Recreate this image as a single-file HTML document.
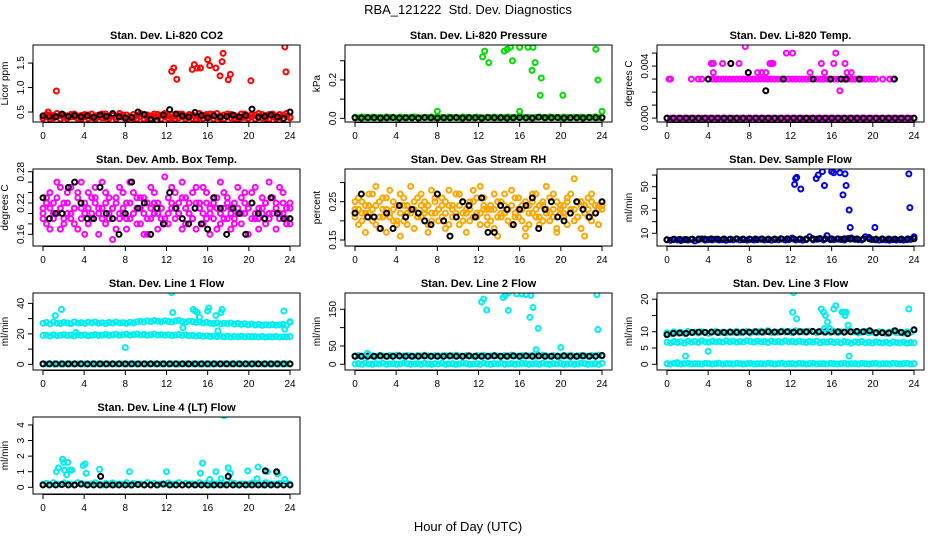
<!DOCTYPE html>
<html><head><meta charset="utf-8"><style>
body{margin:0;background:#fff;width:936px;height:540px;overflow:hidden}
svg{font-family:"Liberation Sans",sans-serif}
</style></head><body>
<svg id="c" width="936" height="540">
<text x="468" y="14" text-anchor="middle" font-size="13" xml:space="preserve">RBA_121222  Std. Dev. Diagnostics</text>
<text x="468" y="531" text-anchor="middle" font-size="13">Hour of Day (UTC)</text>
</svg>
<script>
const xTicks=[0,4,8,12,16,20,24];
const co2BandA=[0.42,0.40,0.44,0.38,0.41,0.43,0.39,0.42,0.45,0.40,0.37,0.43,0.41,0.44,0.39,0.42,0.40,0.46,0.38,0.41,0.43,0.40,0.42,0.39,0.44,0.41,0.37,0.43,0.40,0.45,0.38,0.42,0.41,0.39,0.44,0.40,0.43,0.38,0.42,0.46,0.40,0.41,0.39,0.44,0.42,0.38,0.43,0.41,0.40,0.45,0.39,0.42,0.44,0.40,0.38,0.43,0.41,0.46,0.39,0.42,0.40,0.44,0.41,0.38,0.43,0.45,0.40,0.42,0.39,0.44,0.41,0.40];
const co2BandB=[0.37,0.45,0.36,0.43,0.47,0.36,0.44,0.37,0.40,0.46,0.42,0.36,0.45,0.37,0.46,0.36,0.44,0.38,0.46,0.37,0.45,0.36,0.47,0.44,0.36,0.38,0.45,0.36,0.47,0.36,0.44,0.37,0.46,0.45,0.36,0.47,0.37,0.45,0.36,0.38,0.46,0.36,0.45,0.37,0.36,0.47,0.37,0.45,0.46,0.36,0.47,0.37,0.36,0.46,0.45,0.37,0.36,0.38,0.46,0.37,0.45,0.36,0.47,0.45,0.37,0.36,0.46,0.37,0.45,0.36,0.47,0.38];
const co2Black=[0.42,0.41,0.40,0.46,0.41,0.43,0.40,0.42,0.39,0.44,0.41,0.47,0.40,0.38,0.39,0.50,0.45,0.35,0.33,0.44,0.55,0.46,0.42,0.40,0.49,0.43,0.38,0.42,0.40,0.41,0.44,0.40,0.43,0.56,0.39,0.41,0.44,0.40,0.37,0.50];
const co2OutX=[0.5,1.3,12.5,12.7,13.0,14.5,14.7,15.0,15.3,16.0,16.2,16.8,17.2,17.4,17.5,18.0,18.2,20.2,23.5,23.6];
const co2OutY=[0.50,0.93,1.33,1.40,1.17,1.37,1.47,1.40,1.40,1.57,1.45,1.40,1.24,1.53,1.70,1.16,1.27,1.14,1.83,1.32];

const presBand=[0.006,0.004,0.008,0.005,0.003,0.007,0.005,0.006,0.004,0.008,0.005,0.006,0.003,0.007,0.005,0.004,0.006,0.008,0.005,0.004,0.006,0.005,0.007,0.004,0.006,0.005,0.003,0.007,0.005,0.006,0.004,0.008,0.005,0.006,0.004,0.007,0.005,0.003,0.006,0.005,0.007,0.004,0.006,0.005,0.008,0.004,0.006,0.005,0.007,0.003,0.006,0.004,0.005,0.007,0.006,0.004,0.008,0.005,0.006,0.003,0.007,0.005,0.004,0.006,0.005,0.007,0.004,0.006,0.005,0.008,0.004,0.006];
const presBlack=[0.003,0.002,0.004,0.003,0.002,0.003,0.004,0.002,0.003,0.003,0.002,0.004,0.003,0.002,0.003,0.003,0.004,0.002,0.003,0.003,0.002,0.004,0.003,0.003,0.002,0.003,0.004,0.003,0.002,0.006,0.003,0.003,0.004,0.002,0.003,0.003,0.002,0.004,0.003,0.003];
const presOutX=[8.0,12.4,12.6,13.0,14.5,14.8,15.1,15.3,16.0,16.0,16.8,17.3,17.2,17.5,18.0,18.1,20.2,23.4,23.6,24.0];
const presOutY=[0.037,0.32,0.35,0.29,0.35,0.36,0.37,0.30,0.37,0.037,0.37,0.37,0.25,0.29,0.12,0.21,0.12,0.36,0.20,0.037];

const tempZero=[0,0,0,0,0,0,0,0,0,0,0,0,0,0,0,0,0,0,0,0,0,0,0,0,0,0,0,0,0,0,0,0,0,0,0,0,0,0,0,0,0,0,0,0,0,0,0,0,0,0,0,0,0,0,0,0,0,0,0,0,0,0,0,0,0,0,0,0,0,0,0,0];
const tempMid=[null,0.003,null,null,null,null,null,0.003,null,0.003,0.003,null,0.003,0.003,0.003,0.003,0.003,0.003,0.003,0.003,0.003,0.003,0.003,0.003,0.003,0.003,0.003,0.003,0.003,0.003,0.003,0.003,0.003,0.003,0.003,0.003,0.003,0.003,0.003,0.003,0.003,0.003,0.003,0.003,0.003,0.003,0.003,0.003,0.003,0.003,0.003,0.003,0.003,0.003,0.003,0.003,0.003,0.003,0.003,0.003,0.003,null,0.003,null,0.003,0.003,null,null,null,null,null,null];
const tempBlack=[0,0,0,0,0,0,0,0,0,0,0,0,0,0,0,0,0,0,0,0,0,0,0,0,0,0,0,0,0,0,0,0,0,0,0,0,0,0,0,0];
const tempOutX=[0.2,4.3,4.5,4.5,5.4,6.2,7.0,7.6,7.9,8.8,9.2,9.6,10.0,10.2,10.3,11.6,12.2,13.9,15.0,15.3,16.2,16.4,16.8,17.3,17.5,17.9,4.0,6.2,7.9,9.6,11.3,14.2,15.9,16.9,17.4,18.7,22.1];
const tempOutY=[0.003,0.0042,0.0035,0.0042,0.0042,0.0042,0.0042,0.0055,0.0035,0.0035,0.0035,0.0035,0.0042,0.0042,0.0042,0.005,0.005,0.0035,0.0042,0.0035,0.0042,0.005,0.0021,0.0042,0.0035,0.0035,0.003,0.0042,0.0035,0.0021,0.003,0.003,0.003,0.003,0.003,0.003,0.003];
const tempOutC=["m","m","m","m","m","m","m","m","m","m","m","m","m","m","m","m","m","m","m","m","m","m","m","m","m","m","k","k","k","k","k","k","k","k","k","k","k"];

const ambA=[0.21,0.18,0.24,0.19,0.26,0.17,0.22,0.20,0.25,0.18,0.23,0.21,0.16,0.24,0.19,0.22,0.20,0.26,0.18,0.23,0.21,0.17,0.25,0.20,0.22,0.19,0.24,0.18,0.21,0.23,0.16,0.25,0.20,0.22,0.19,0.27,0.18,0.21,0.24,0.20,0.17,0.23,0.22,0.19,0.25,0.21,0.18,0.24,0.20,0.22,0.17,0.26,0.19,0.23,0.21,0.18,0.25,0.20,0.22,0.16,0.24,0.19,0.21,0.23,0.18,0.26,0.20,0.22,0.19,0.24,0.21,0.18];
const ambB=[0.19,0.23,0.17,0.22,0.20,0.25,0.18,0.24,0.19,0.21,0.17,0.26,0.20,0.18,0.23,0.25,0.16,0.21,0.24,0.19,0.15,0.22,0.19,0.24,0.17,0.26,0.20,0.23,0.18,0.16,0.22,0.19,0.24,0.17,0.21,0.18,0.23,0.25,0.19,0.22,0.26,0.18,0.20,0.24,0.17,0.22,0.25,0.19,0.16,0.23,0.21,0.18,0.24,0.19,0.17,0.22,0.20,0.18,0.24,0.21,0.19,0.25,0.17,0.20,0.22,0.19,0.23,0.17,0.25,0.20,0.18,0.22];
const ambC=[0.20,0.22,0.21,0.20,0.23,0.21,0.19,0.22,0.20,0.21,0.24,0.19,0.22,0.21,0.20,0.23,0.21,0.19,0.22,0.20,0.21,0.23,0.20,0.21,0.19,0.22,0.20,0.21,0.23,0.20,0.19,0.21,0.22,0.20,0.21,0.19,0.20,0.22,0.21,0.20,0.23,0.21,0.20,0.19,0.22,0.21,0.20,0.22,0.21,0.19,0.23,0.20,0.21,0.22,0.20,0.19,0.21,0.23,0.20,0.21,0.22,0.20,0.19,0.21,0.22,0.20,0.23,0.21,0.20,0.22,0.19,0.21];
const ambBlack=[0.23,0.19,0.20,0.20,0.25,0.26,0.22,0.19,0.19,0.25,0.20,0.19,0.16,0.20,0.26,0.21,0.22,0.16,0.21,0.18,0.24,0.21,0.19,0.18,0.21,0.18,0.17,0.23,0.21,0.16,0.21,0.20,0.16,0.22,0.20,0.19,0.23,0.20,0.19,0.19];

const rhA=[0.23,0.26,0.20,0.24,0.22,0.27,0.19,0.25,0.21,0.23,0.28,0.20,0.24,0.22,0.26,0.19,0.23,0.25,0.21,0.27,0.22,0.24,0.20,0.26,0.23,0.21,0.25,0.19,0.24,0.22,0.27,0.20,0.23,0.25,0.21,0.26,0.22,0.24,0.19,0.23,0.27,0.21,0.25,0.22,0.20,0.24,0.26,0.21,0.23,0.25,0.19,0.22,0.27,0.24,0.20,0.23,0.26,0.21,0.25,0.22,0.24,0.19,0.27,0.23,0.21,0.25,0.22,0.26,0.20,0.24,0.23,0.25];
const rhB=[0.21,0.19,0.25,0.22,0.27,0.20,0.24,0.18,0.23,0.26,0.21,0.25,0.19,0.27,0.20,0.24,0.22,0.18,0.26,0.21,0.25,0.19,0.28,0.22,0.20,0.26,0.18,0.24,0.21,0.27,0.19,0.25,0.22,0.20,0.28,0.21,0.19,0.26,0.23,0.20,0.18,0.25,0.21,0.27,0.23,0.19,0.22,0.26,0.20,0.18,0.24,0.27,0.21,0.19,0.25,0.22,0.20,0.27,0.18,0.23,0.21,0.26,0.22,0.20,0.25,0.18,0.24,0.21,0.27,0.22,0.19,0.24];
const rhC=[0.25,0.23,0.22,0.17,0.24,0.23,0.29,0.21,0.26,0.17,0.22,0.23,0.20,0.16,0.24,0.22,0.29,0.23,0.21,0.24,0.23,0.17,0.22,0.25,0.23,0.24,0.22,0.28,0.23,0.21,0.24,0.22,0.17,0.23,0.25,0.22,0.29,0.23,0.21,0.24,0.23,0.16,0.22,0.24,0.23,0.28,0.21,0.23,0.24,0.16,0.22,0.25,0.23,0.21,0.24,0.29,0.22,0.23,0.17,0.24,0.22,0.25,0.23,0.31,0.21,0.24,0.16,0.23,0.25,0.22,0.24,0.23];
const rhBlack=[0.22,0.27,0.21,0.21,0.18,0.22,0.18,0.24,0.21,0.23,0.22,0.20,0.19,0.27,0.20,0.16,0.21,0.25,0.24,0.21,0.26,0.17,0.17,0.24,0.23,0.19,0.23,0.24,0.26,0.18,0.23,0.25,0.21,0.20,0.22,0.25,0.23,0.21,0.22,0.25];

const sfBand=[4.5,4.0,5.0,4.3,3.8,4.6,4.2,4.8,3.5,4.4,5.2,4.1,4.6,4.3,4.9,4.2,4.5,4.0,4.7,4.4,5.0,4.3,4.6,4.1,4.8,4.2,4.5,4.9,4.3,4.6,4.1,4.7,4.4,5.0,4.2,4.5,6.0,4.3,4.8,4.1,4.6,7.0,4.4,4.9,5.5,4.3,8.0,4.6,4.5,5.0,4.7,4.2,5.5,6.0,4.8,4.5,4.3,7.0,6.5,4.6,4.4,4.1,4.5,4.3,4.0,4.6,4.2,4.4,4.1,4.5,4.8,7.0];
const sfBlack=[4.5,4.6,4.8,4.7,5.0,5.1,5.0,5.2,5.0,5.1,5.0,5.2,5.1,5.0,5.1,5.2,5.0,5.1,5.3,5.2,5.2,5.1,5.2,5.3,5.2,5.3,5.2,5.2,5.3,5.1,5.2,5.2,5.1,5.0,5.2,5.1,5.0,5.1,5.2,5.3];
const sfOutX=[12.4,12.5,12.6,13.0,14.5,14.7,15.1,15.3,16.0,16.2,16.8,17.1,17.3,17.4,17.7,17.8,20.2,23.5,23.6];
const sfOutY=[52,57,58,48,57,60,63,51,63,62,62,43,61,51,30,15,15,61,32];

const l1BandHi=[27,27.5,26.5,27.8,27,26.8,27.5,27.2,26.6,27.9,27.1,27.4,26.9,27.6,27.2,27.8,27,27.3,26.8,27.5,27.1,27.7,27.2,27.4,26.9,27.6,27.2,27.9,28.3,27.8,28.5,28.1,28.8,28.3,27.9,28.6,28.2,27.8,28.4,28.9,28.1,27.7,28.3,28.0,27.5,27.8,27.2,27.6,27.0,26.8,27.2,26.5,27.0,26.7,27.1,26.4,26.9,26.2,26.6,26.0,26.4,25.8,26.2,25.6,26.0,25.8,26.1,25.7,25.9,26.2,25.6,27.5];
const l1BandLo=[19,19.2,18.6,19.4,18.8,19.1,19.5,18.9,19.2,18.7,19.4,19,19.3,18.8,19.1,19.5,18.9,19.2,19.6,19,19.3,19.7,19.1,19.4,19.8,19.2,19.5,19.9,19.3,19.6,19.1,19.4,19.8,19.2,19.5,19.1,19.4,18.9,19.2,19.6,19,19.3,18.8,19.1,18.6,18.9,18.4,18.7,18.3,18.6,18.2,18.5,18.1,18.4,18.0,18.3,18.1,18.4,18.0,18.3,18.1,18.2,18.0,18.3,17.9,18.2,18.0,18.3,17.9,18.1,18.0,18.2];
const l1Zero=[0.3,0.2,0.4,0.2,0.3,0.3,0.2,0.4,0.3,0.2,0.3,0.4,0.2,0.3,0.3,0.2,0.4,0.3,0.2,0.3,0.3,0.2,0.4,0.3,0.2,0.3,0.4,0.2,0.3,0.3,0.2,0.4,0.3,0.2,0.3,0.3,0.2,0.4,0.3,0.2,0.3,0.4,0.2,0.3,0.3,0.2,0.4,0.3,0.2,0.3,0.3,0.2,0.4,0.3,0.2,0.3,0.4,0.2,0.3,0.3,0.2,0.4,0.3,0.2,0.3,0.3,0.2,0.4,0.3,0.2,0.3,0.3];
const l1Black=[0.3,0.3,0.3,0.3,0.3,0.3,0.3,0.3,0.3,0.3,0.3,0.3,0.3,0.3,0.3,0.3,0.3,0.3,0.3,0.3,0.3,0.3,0.3,0.3,0.3,0.3,0.3,0.3,0.3,0.3,0.3,0.3,0.3,0.3,0.3,0.3,0.3,0.3,0.3,0.3];
const l1OutX=[1.2,1.8,3.2,8.0,12.5,12.6,13.6,14.6,14.8,15.0,15.2,16.0,16.1,16.8,17.0,17.3,17.4,23.4,23.5,24.0];
const l1OutY=[32,36,21,11,47,34,24,36,35,34,31,35,37,32,22,34,36,35,23,28];

const l2Band=[23,24,22,23,25,23,22,24,23,22,24,23,25,22,23,24,23,22,24,23,25,23,22,24,23,23,24,22,23,25,23,22,24,23,22,24,23,25,22,23,24,23,22,24,23,25,23,22,24,23,23,24,22,23,25,23,22,24,23,22,24,23,25,22,23,24,23,22,24,23,25,23];
const l2Zero=[1,2,0,3,1,0,2,1,3,0,1,2,0,1,3,2,0,1,2,0,3,1,0,2,1,3,0,1,2,0,1,3,2,0,1,2,0,3,1,0,2,1,3,0,1,2,0,1,3,2,0,1,2,0,3,1,0,2,1,3,0,1,2,0,1,3,2,0,1,2,0,3];
const l2Black=[22,22,22,22,23,22,22,23,22,22,22,23,22,22,22,23,22,22,23,22,22,22,23,22,22,23,22,23,22,23,22,22,22,23,22,22,23,22,22,24];
const l2OutX=[1.2,12.3,12.5,12.8,14.4,14.6,14.9,14.9,15.7,16.2,16.6,17.0,17.1,17.3,17.6,17.8,20.0,23.5,23.6];
const l2OutY=[30,170,178,148,182,188,195,147,192,192,190,128,188,155,40,98,46,190,95];

const l3Hi=[9.7,9.4,10.0,9.6,9.8,9.5,10.1,9.7,9.9,9.6,10.0,9.8,9.5,9.9,10.1,9.7,9.9,9.6,10.0,9.8,10.2,9.7,9.9,10.1,9.6,10.0,9.8,10.2,9.9,10.3,9.7,10.0,9.8,10.2,9.9,10.1,9.7,10.3,9.9,10.0,9.8,10.2,10.0,9.7,10.1,9.9,10.3,9.8,10.1,9.7,10.0,9.8,10.2,9.9,10.0,9.6,9.9,10.1,9.7,9.9,9.6,10.0,9.8,9.5,9.9,10.1,9.7,9.9,9.6,10.0,9.8,10.5];
const l3Mid=[6.8,6.6,7.0,6.7,6.9,6.5,7.1,6.8,7.0,6.7,7.2,6.9,6.8,7.1,6.9,7.0,6.8,7.2,6.9,7.1,6.8,7.0,6.9,7.2,7.0,6.8,7.1,6.9,7.0,6.7,7.1,6.9,7.0,6.8,7.2,6.9,7.0,6.8,7.1,6.9,6.7,7.0,6.8,7.1,6.6,6.9,6.8,7.0,6.7,6.9,6.6,7.0,6.8,6.5,6.9,6.7,7.0,6.6,6.8,6.5,6.9,6.7,6.6,6.8,6.5,6.9,6.7,6.6,6.8,6.5,6.7,6.6];
const l3Zero=[0.2,0.1,0.3,0.2,0.1,0.2,0.3,0.1,0.2,0.2,0.1,0.3,0.2,0.1,0.2,0.3,0.1,0.2,0.2,0.1,0.3,0.2,0.1,0.2,0.3,0.1,0.2,0.2,0.1,0.3,0.2,0.1,0.2,0.3,0.1,0.2,0.2,0.1,0.3,0.2,0.1,0.2,0.3,0.1,0.2,0.2,0.1,0.3,0.2,0.1,0.2,0.3,0.1,0.2,0.2,0.1,0.3,0.2,0.1,0.2,0.3,0.1,0.2,0.2,0.1,0.3,0.2,0.1,0.2,0.3,0.1,0.2];
const l3Black=[9.1,9.5,9.6,9.5,9.8,9.9,9.8,9.9,9.8,9.8,9.9,9.8,9.9,9.9,10.0,9.9,10.0,9.9,10.0,10.0,9.9,10.0,10.0,10.1,10.0,9.9,10.0,10.0,9.9,10.0,10.1,10.0,10.3,9.7,9.7,9.6,10.3,9.8,9.4,10.6];
const l3OutX=[1.0,1.8,4.0,12.2,12.3,12.6,15.0,15.2,15.3,15.4,15.6,15.8,16.2,16.4,17.0,17.2,17.3,17.4,17.6,17.7,23.5];
const l3OutY=[0.5,2.5,4,16,22,14,17,16,11,15,13,11,17,18,16,16,15,16,12,2.5,17];

const l4Band=[0.2,0.25,0.15,0.3,0.2,0.18,0.28,0.22,0.2,0.15,0.3,0.25,0.2,0.18,0.22,0.3,0.2,0.15,0.25,0.2,0.28,0.18,0.22,0.2,0.3,0.15,0.25,0.2,0.22,0.18,0.3,0.2,0.25,0.15,0.22,0.2,0.28,0.18,0.2,0.3,0.15,0.25,0.2,0.22,0.18,0.3,0.2,0.25,0.15,0.22,0.2,0.28,0.18,0.2,0.3,0.25,0.15,0.22,0.2,0.18,0.28,0.2,0.25,0.15,0.3,0.22,0.2,0.18,0.25,0.2,0.28,0.2];
const l4Black=[0.15,0.15,0.15,0.18,0.15,0.15,0.2,0.15,0.15,0.15,0.15,0.15,0.15,0.15,0.15,0.18,0.15,0.15,0.15,0.2,0.15,0.15,0.15,0.15,0.15,0.15,0.15,0.15,0.15,0.15,0.15,0.15,0.15,0.15,0.15,0.15,0.15,0.15,0.15,0.15];
const l4OutX=[1.3,1.5,1.9,2.0,2.1,2.3,2.4,2.6,2.8,3.9,4.1,4.2,5.5,8.4,12.0,15.3,15.5,16.2,16.8,17.3,17.6,18.0,18.2,19.9,20.8,20.9,21.8,22.8,23.5];
const l4OutY=[1.0,1.25,1.8,1.6,1.1,0.8,1.6,1.1,1.1,1.4,1.5,0.9,1.15,1.0,1.0,0.9,1.55,0.5,1.0,0.55,4.6,1.25,0.9,1.05,0.55,1.3,1.0,0.85,0.5];
const l4BlkX=[5.6,18.0,21.6,22.7];
const l4BlkY=[0.7,0.7,1.05,1.0];

const NS="http://www.w3.org/2000/svg";
const svg=document.getElementById('c');
const colLeft=[33,345,657], rowTop=[45,169,293,417], W=267, H=77;
function mk(tag,attrs,parent){const e=document.createElementNS(NS,tag);for(const k in attrs)e.setAttribute(k,attrs[k]);(parent||svg).appendChild(e);return e;}
function panel(o){
  const L=colLeft[o.col],T=rowTop[o.row];
  const g=mk('g',{});
  
  
  const xs=v=>L+10+v*247/24;
  const ys=v=>T+H-(v-o.ymin)/(o.ymax-o.ymin)*H;
  const clip=mk('clipPath',{id:'cl'+o.name},g);
  mk('rect',{x:L,y:T,width:W,height:H},clip);
  const pts=mk('g',{'clip-path':'url(#cl'+o.name+')'},g);
  
  
  o.series.forEach(s=>{
    const n=s.y.length;
    for(let i=0;i<n;i++){
      if(s.y[i]===null)continue;
      const xv=s.x?s.x[i]:i*24/(n-1);
      const col=s.c?(s.c[i]==='k'?'#000':s.color):s.color;
      const p=mk('circle',{cx:xs(xv),cy:ys(s.y[i]),r:2.5,fill:'none',stroke:col,'stroke-width':2},pts);
      
      
    }
  });
  const box=mk('rect',{x:L,y:T,width:W,height:H,fill:'none',stroke:'#000','stroke-width':1},g);
  
  
  const t=mk('text',{x:L+W/2,y:T-6,'text-anchor':'middle','font-size':11,'font-weight':'bold'},g);
  t.textContent=o.title;
  
  
  const yl=mk('text',{x:L-25,y:T+H/2,'text-anchor':'middle','font-size':10,transform:'rotate(-90 '+(L-25)+' '+(T+H/2)+')'},g);
  yl.textContent=o.ylab;
  
  
  mk('line',{x1:xs(0),x2:xs(24),y1:T+H+0.5,y2:T+H+0.5,stroke:'#000'},g);
  xTicks.forEach(v=>{
    mk('line',{x1:xs(v),x2:xs(v),y1:T+H,y2:T+H+5,stroke:'#000'},g);
    const tx=mk('text',{x:xs(v),y:T+H+17,'text-anchor':'middle','font-size':10},g);
    tx.textContent=v;
    
    
  });
  const yt=o.yticks;
  mk('line',{x1:L-0.5,x2:L-0.5,y1:ys(yt[0]),y2:ys(yt[yt.length-1]),stroke:'#000'},g);
  yt.forEach((v,i)=>{
    mk('line',{x1:L-5,x2:L,y1:ys(v),y2:ys(v),stroke:'#000'},g);
    if(o.ylabels[i]!==''){
      const ty=mk('text',{x:L-9,y:ys(v),'text-anchor':'middle','font-size':10,transform:'rotate(-90 '+(L-9)+' '+ys(v)+')'},g);
      ty.textContent=o.ylabels[i];
      
      
    }
  });
}
const R='#ff0000',G='#00dd00',M='#ff00ff',B='#0000ee',C='#00eeee',K='#000',O='#ffa500';
panel({name:'co2',col:0,row:0,title:'Stan. Dev. Li-820 CO2',ylab:'Licor ppm',ymin:0.296,ymax:1.87,yticks:[0.5,1.0,1.5],ylabels:['0.5','1.0','1.5'],
 series:[{y:co2BandA,color:R},{y:co2BandB,color:R},{y:co2Black,color:K},{x:co2OutX,y:co2OutY,color:R}]});
panel({name:'pressure',col:1,row:0,title:'Stan. Dev. Li-820 Pressure',ylab:'kPa',ymin:-0.019,ymax:0.382,yticks:[0,0.1,0.2,0.3],ylabels:['0.0','','0.2',''],
 series:[{y:presBand,color:G},{y:presBlack,color:K},{x:presOutX,y:presOutY,color:G}]});
panel({name:'li820-temp',col:2,row:0,title:'Stan. Dev. Li-820 Temp.',ylab:'degrees C',ymin:-0.0003,ymax:0.00562,yticks:[0,0.001,0.002,0.003,0.004,0.005],ylabels:['0.000','','','','0.004',''],
 series:[{y:tempZero,color:M},{y:tempMid,color:M},{y:tempBlack,color:K},{x:tempOutX,y:tempOutY,c:tempOutC,color:M}]});
panel({name:'amb-temp',col:0,row:1,title:'Stan. Dev. Amb. Box Temp.',ylab:'degrees C',ymin:0.1376,ymax:0.2852,yticks:[0.16,0.18,0.20,0.22,0.24,0.26,0.28],ylabels:['0.16','','','0.22','','','0.28'],
 series:[{y:ambA,color:M},{y:ambB,color:M},{y:ambC,color:M},{y:ambBlack,color:K}]});
panel({name:'gas-rh',col:1,row:1,title:'Stan. Dev. Gas Stream RH',ylab:'percent',ymin:0.1343,ymax:0.3354,yticks:[0.15,0.20,0.25,0.30],ylabels:['0.15','','0.25',''],
 series:[{y:rhA,color:O},{y:rhB,color:O},{y:rhC,color:O},{y:rhBlack,color:K}]});
panel({name:'sample-flow',col:2,row:1,title:'Stan. Dev. Sample Flow',ylab:'ml/min',ymin:-0.9,ymax:65.2,yticks:[10,20,30,40,50,60],ylabels:['10','','30','','50',''],
 series:[{y:sfBand,color:B},{y:sfBlack,color:K},{x:sfOutX,y:sfOutY,color:B}]});
panel({name:'line1-flow',col:0,row:2,title:'Stan. Dev. Line 1 Flow',ylab:'ml/min',ymin:-3.7,ymax:46.8,yticks:[0,10,20,30,40],ylabels:['0','','20','','40'],
 series:[{y:l1BandHi,color:C},{y:l1BandLo,color:C},{y:l1Zero,color:C},{y:l1Black,color:K},{x:l1OutX,y:l1OutY,color:C}]});
panel({name:'line2-flow',col:1,row:2,title:'Stan. Dev. Line 2 Flow',ylab:'ml/min',ymin:-15.5,ymax:194.5,yticks:[0,50,100,150],ylabels:['0','50','','150'],
 series:[{y:l2Band,color:C},{y:l2Zero,color:C},{y:l2Black,color:K},{x:l2OutX,y:l2OutY,color:C}]});
panel({name:'line3-flow',col:2,row:2,title:'Stan. Dev. Line 3 Flow',ylab:'ml/min',ymin:-1.75,ymax:21.9,yticks:[0,5,10,15,20],ylabels:['0','5','10','','20'],
 series:[{y:l3Hi,color:C},{y:l3Mid,color:C},{y:l3Zero,color:C},{y:l3Black,color:K},{x:l3OutX,y:l3OutY,color:C}]});
panel({name:'line4-flow',col:0,row:3,title:'Stan. Dev. Line 4 (LT) Flow',ylab:'ml/min',ymin:-0.43,ymax:4.51,yticks:[0,1,2,3,4],ylabels:['0','1','2','3','4'],
 series:[{y:l4Band,color:C},{y:l4Black,color:K},{x:l4OutX,y:l4OutY,color:C},{x:l4BlkX,y:l4BlkY,color:K}]});
</script>
</body></html>
